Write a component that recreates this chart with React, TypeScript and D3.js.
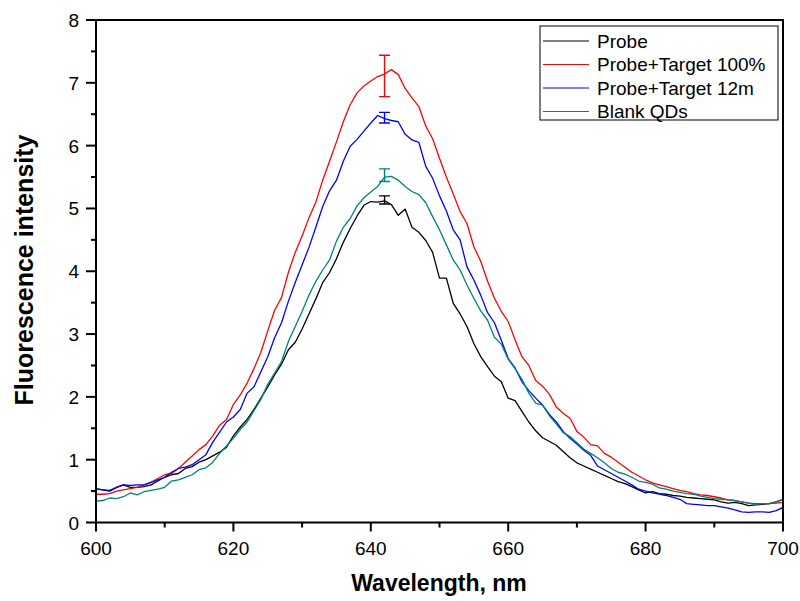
import React from "react";
import * as d3 from "d3";

const wavelengths: number[] = d3.range(600, 701, 1);

const probe: number[] = [
  0.54, 0.52, 0.50, 0.56, 0.60, 0.56, 0.56, 0.57, 0.60, 0.66,
  0.72, 0.76, 0.78, 0.86, 0.89, 0.96, 1.00, 1.06, 1.12, 1.20,
  1.38, 1.52, 1.64, 1.80, 1.98, 2.16, 2.35, 2.52, 2.75, 2.87,
  3.08, 3.32, 3.56, 3.82, 3.98, 4.20, 4.46, 4.68, 4.88, 5.05,
  5.11, 5.10, 5.12, 5.06, 4.89, 4.99, 4.70, 4.62, 4.49, 4.30,
  3.89, 3.89, 3.49, 3.32, 3.12, 2.85, 2.64, 2.48, 2.33, 2.24,
  1.98, 1.94, 1.77, 1.60, 1.46, 1.35, 1.29, 1.23, 1.13, 1.03,
  0.95, 0.90, 0.85, 0.80, 0.75, 0.70, 0.65, 0.62, 0.57, 0.52,
  0.47, 0.49, 0.46, 0.45, 0.43, 0.42, 0.40, 0.39, 0.38, 0.37,
  0.36, 0.33, 0.31, 0.32, 0.30, 0.27, 0.28, 0.29, 0.30, 0.33,
  0.37,
];

const target100: number[] = [
  0.45, 0.45, 0.46, 0.50, 0.52, 0.54, 0.56, 0.60, 0.64, 0.70,
  0.76, 0.78, 0.86, 0.96, 1.06, 1.16, 1.24, 1.38, 1.55, 1.64,
  1.88, 2.03, 2.22, 2.45, 2.71, 3.05, 3.38, 3.58, 3.98, 4.30,
  4.56, 4.85, 5.10, 5.45, 5.75, 6.06, 6.38, 6.65, 6.84, 6.95,
  7.03, 7.10, 7.14, 7.21, 7.13, 6.91, 6.76, 6.62, 6.31, 6.11,
  5.80, 5.50, 5.23, 4.95, 4.76, 4.39, 4.16, 3.84, 3.57, 3.36,
  3.20, 2.91, 2.64, 2.50, 2.26, 2.17, 2.04, 1.84, 1.74, 1.66,
  1.45, 1.36, 1.24, 1.22, 1.10, 1.04, 0.96, 0.88, 0.80, 0.74,
  0.68, 0.63, 0.60, 0.57, 0.54, 0.51, 0.49, 0.46, 0.44, 0.43,
  0.41, 0.39, 0.36, 0.35, 0.33, 0.31, 0.30, 0.30, 0.30, 0.31,
  0.32,
];

const target12m: number[] = [
  0.53, 0.52, 0.51, 0.56, 0.60, 0.59, 0.60, 0.60, 0.64, 0.68,
  0.72, 0.80, 0.86, 0.88, 0.92, 1.00, 1.08, 1.28, 1.44, 1.60,
  1.68, 1.80, 2.06, 2.16, 2.40, 2.64, 2.94, 3.18, 3.52, 3.82,
  4.10, 4.38, 4.70, 5.03, 5.28, 5.45, 5.75, 5.99, 6.10, 6.23,
  6.36, 6.48, 6.43, 6.40, 6.38, 6.18, 6.09, 6.05, 5.67, 5.48,
  5.20, 4.96, 4.66, 4.50, 4.07, 3.86, 3.62, 3.34, 3.18, 2.90,
  2.61, 2.46, 2.24, 2.10, 1.98, 1.87, 1.72, 1.60, 1.45, 1.34,
  1.25, 1.15, 1.07, 0.90, 0.84, 0.78, 0.72, 0.66, 0.60, 0.53,
  0.50, 0.47, 0.45, 0.43, 0.40, 0.37, 0.30, 0.29, 0.28, 0.27,
  0.27, 0.25, 0.23, 0.20, 0.17, 0.16, 0.17, 0.17, 0.16, 0.19,
  0.24,
];

const blankQDs: number[] = [
  0.34, 0.35, 0.39, 0.38, 0.41, 0.47, 0.44, 0.49, 0.51, 0.53,
  0.56, 0.66, 0.68, 0.72, 0.76, 0.84, 0.87, 0.96, 1.10, 1.22,
  1.34, 1.48, 1.60, 1.78, 1.96, 2.20, 2.38, 2.56, 2.88, 3.12,
  3.36, 3.62, 3.84, 4.02, 4.18, 4.48, 4.70, 4.84, 5.04, 5.17,
  5.26, 5.35, 5.50, 5.51, 5.45, 5.35, 5.27, 5.22, 5.09, 4.87,
  4.66, 4.42, 4.18, 4.02, 3.78, 3.57, 3.37, 3.22, 2.95, 2.84,
  2.60, 2.45, 2.28, 2.06, 1.90, 1.87, 1.70, 1.57, 1.43, 1.37,
  1.27, 1.17, 1.10, 1.03, 0.95, 0.86, 0.80, 0.77, 0.72, 0.66,
  0.64, 0.61, 0.55, 0.53, 0.50, 0.48, 0.46, 0.45, 0.42, 0.40,
  0.38, 0.37, 0.36, 0.35, 0.33, 0.31, 0.29, 0.30, 0.30, 0.33,
  0.37,
];

const seriesNames: string[] = ["Probe", "Probe+Target 100%", "Probe+Target 12m", "Blank QDs"];
const seriesColors: string[] = ["#000000", "#ff0000", "#0000ff", "#008080"];
const seriesValues: number[][] = [probe, target100, target12m, blankQDs];

// error bars at 642 nm: [low, high]
const errorX = 642;
const errorLow: number[] = [5.07, 6.78, 6.36, 5.43];
const errorHigh: number[] = [5.20, 7.44, 6.53, 5.63];

const xTicks: number[] = [600, 620, 640, 660, 680, 700];
const xMinorTicks: number[] = [610, 630, 650, 670, 690];
const yTicks: number[] = [0, 1, 2, 3, 4, 5, 6, 7, 8];
const yMinorTicks: number[] = [0.5, 1.5, 2.5, 3.5, 4.5, 5.5, 6.5, 7.5];

export default function App() {
  const W = 800, H = 601;
  const left = 96, right = 783, top = 20, bottom = 522.5;
  const x = d3.scaleLinear().domain([600, 700]).range([left, right]);
  const y = d3.scaleLinear().domain([0, 8]).range([bottom, top]);
  const line = d3
    .line<number>()
    .x((_, i) => x(wavelengths[i]))
    .y((d) => y(d));
  const font = "Arial, 'Liberation Sans', sans-serif";

  const legendX = 540, legendY = 26, legendW = 238, legendH = 94;

  return (
    <svg
      width={W}
      height={H}
      style={{ position: "absolute", left: 0, top: 0, background: "#fff" }}
      fontFamily={font}
    >
      <rect x={0} y={0} width={W} height={H} fill="#fff" />
      <defs>
        <clipPath id="plotclip">
          <rect x={left} y={top} width={right - left} height={bottom - top} />
        </clipPath>
      </defs>

      <g clipPath="url(#plotclip)">
        {seriesValues.map((vals, s) => (
          <path
            key={s}
            d={line(vals) || ""}
            fill="none"
            stroke={seriesColors[s]}
            strokeWidth={1.3}
            strokeLinejoin="round"
          />
        ))}
        {seriesValues.map((_, s) => (
          <g key={"e" + s} stroke={seriesColors[s]} strokeWidth={1.4}>
            <line x1={x(errorX)} x2={x(errorX)} y1={y(errorLow[s])} y2={y(errorHigh[s])} />
            <line x1={x(errorX) - 5.5} x2={x(errorX) + 5.5} y1={y(errorLow[s])} y2={y(errorLow[s])} />
            <line x1={x(errorX) - 5.5} x2={x(errorX) + 5.5} y1={y(errorHigh[s])} y2={y(errorHigh[s])} />
          </g>
        ))}
      </g>

      {/* frame */}
      <rect
        x={left}
        y={top}
        width={right - left}
        height={bottom - top}
        fill="none"
        stroke="#000"
        strokeWidth={2}
      />

      {/* x ticks */}
      {xTicks.map((t) => (
        <g key={"xt" + t}>
          <line x1={x(t)} x2={x(t)} y1={bottom} y2={bottom + 9} stroke="#000" strokeWidth={2} />
          <text x={x(t)} y={555} textAnchor="middle" fontSize={19} fill="#000">
            {t}
          </text>
        </g>
      ))}
      {xMinorTicks.map((t) => (
        <line key={"xm" + t} x1={x(t)} x2={x(t)} y1={bottom} y2={bottom + 5} stroke="#000" strokeWidth={2} />
      ))}

      {/* y ticks */}
      {yTicks.map((t) => (
        <g key={"yt" + t}>
          <line x1={left - 10} x2={left} y1={y(t)} y2={y(t)} stroke="#000" strokeWidth={2} />
          <text x={79} y={y(t) + 7} textAnchor="end" fontSize={19} fill="#000">
            {t}
          </text>
        </g>
      ))}
      {yMinorTicks.map((t) => (
        <line key={"ym" + t} x1={left - 5} x2={left} y1={y(t)} y2={y(t)} stroke="#000" strokeWidth={2} />
      ))}

      {/* axis titles */}
      <text x={439} y={591} textAnchor="middle" fontSize={23} fontWeight="bold" fill="#000">
        Wavelength, nm
      </text>
      <text
        transform={`translate(33, ${270}) rotate(-90)`}
        textAnchor="middle"
        fontSize={25}
        fontWeight="bold"
        fill="#000"
      >
        Fluorescence intensity
      </text>

      {/* legend */}
      <rect x={legendX} y={legendY} width={legendW} height={legendH} fill="#fff" stroke="#000" strokeWidth={1} />
      {seriesNames.map((name, i) => {
        const cy = legendY + 15 + i * 23.5;
        return (
          <g key={"lg" + i}>
            <line x1={legendX + 3} x2={legendX + 49} y1={cy} y2={cy} stroke={seriesColors[i]} strokeWidth={1.2} />
            <text x={legendX + 57} y={cy + 6.5} fontSize={19} fill="#000">
              {name}
            </text>
          </g>
        );
      })}
    </svg>
  );
}
